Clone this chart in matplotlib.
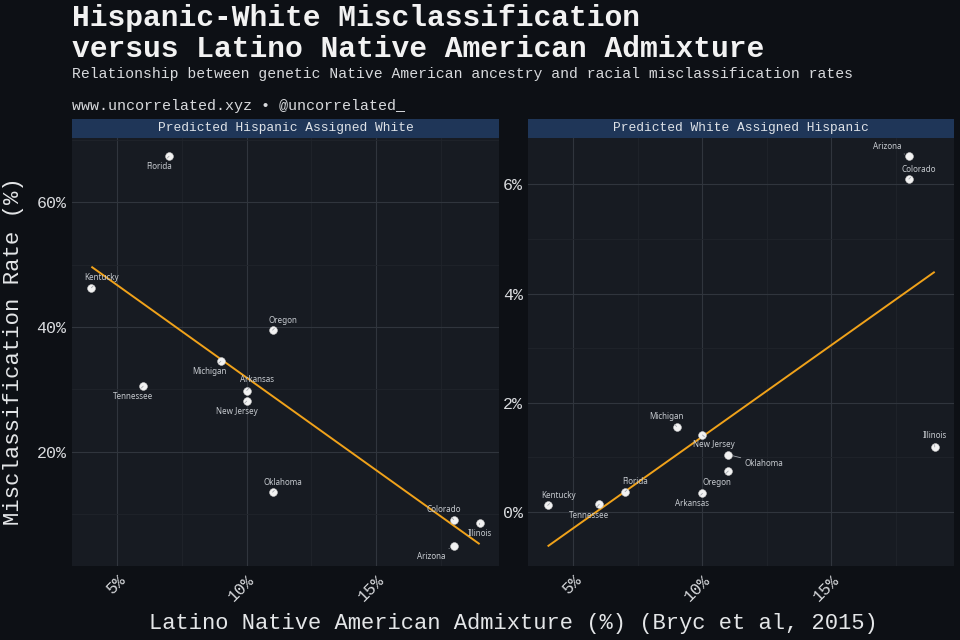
import numpy as np
import matplotlib
matplotlib.use("Agg")
import matplotlib.pyplot as plt
from matplotlib.patches import Rectangle
from matplotlib.ticker import MultipleLocator, FuncFormatter

# ---------------- data ----------------
states = ['Arizona', 'Arkansas', 'Colorado', 'Florida', 'Illinois', 'Kentucky',
          'Michigan', 'New Jersey', 'Oklahoma', 'Oregon', 'Tennessee']
admixture = [18, 10, 18, 7, 19, 4, 9, 10, 11, 11, 6]
hispanic_as_white = [4.8, 29.8, 9.1, 67.4, 8.5, 46.3, 34.5, 28.1, 13.5, 39.5, 30.5]
white_as_hispanic = [6.52, 0.34, 6.10, 0.37, 1.19, 0.12, 1.565, 1.41, 1.05, 0.75, 0.14]
panel_titles = ['Predicted Hispanic Assigned White', 'Predicted White Assigned Hispanic']
x_ticks = [5, 10, 15]
y_ticks_left = [20, 40, 60]
y_ticks_right = [0, 2, 4, 6]

# ---------------- style ----------------
BG = '#0d1015'
PANEL = '#171b22'
STRIP = '#1f3658'
GRID_MAJ = '#30353d'
GRID_MIN = '#20242b'
ORANGE = '#f0a21a'
MONO = 'Liberation Mono'
SANS = 'Noto Sans'

# label offsets in pixels (dx, dy with dy positive downward)
offsets_left = {
    'Florida': (-10, 10), 'Kentucky': (10, -10), 'Oregon': (10, -10),
    'Michigan': (-11, 10), 'Tennessee': (-10, 10), 'Arkansas': (10, -11),
    'New Jersey': (-10, 10), 'Oklahoma': (10, -10), 'Colorado': (-10, -10),
    'Illinois': (0, 10), 'Arizona': (-22, 10),
}
offsets_right = {
    'Arizona': (-22, -10), 'Colorado': (10, -10), 'Michigan': (-10, -10),
    'New Jersey': (11, 10), 'Oklahoma': (36, 9), 'Oregon': (-11, 11),
    'Arkansas': (-10, 10), 'Florida': (10, -10), 'Tennessee': (-10, 11),
    'Kentucky': (11, -10), 'Illinois': (0, -11),
}

fig = plt.figure(figsize=(9.6, 6.4), dpi=100, facecolor=BG)

ax_h = 0.669
ax_y0 = 0.1161
axL = fig.add_axes([0.075, ax_y0, 0.4448, ax_h])
axR = fig.add_axes([0.5503, ax_y0, 0.4435, ax_h])

pct = FuncFormatter(lambda v, p: f'{v:g}%')


def draw_panel(ax, yvals, title, ylim, yticks, yminor, offsets):
    ax.set_facecolor(PANEL)
    for s in ax.spines.values():
        s.set_visible(False)
    ax.set_xlim(3.25, 19.75)
    ax.set_ylim(*ylim)
    ax.xaxis.set_major_locator(plt.FixedLocator(x_ticks))
    ax.xaxis.set_minor_locator(MultipleLocator(2.5))
    ax.yaxis.set_major_locator(plt.FixedLocator(yticks))
    ax.yaxis.set_minor_locator(MultipleLocator(yminor))
    ax.xaxis.set_major_formatter(pct)
    ax.yaxis.set_major_formatter(pct)
    ax.grid(True, which='major', color=GRID_MAJ, lw=0.8)
    ax.grid(True, which='minor', color=GRID_MIN, lw=0.6)
    ax.set_axisbelow(True)
    ax.tick_params(which='both', length=0)
    ax.tick_params(axis='y', pad=4, labelcolor='#d8dadd', labelsize=12)
    ax.tick_params(axis='x', pad=5, labelcolor='#d8dadd', labelsize=12)
    for lab in ax.get_xticklabels() + ax.get_yticklabels():
        lab.set_fontfamily(MONO)
    for lab in ax.get_xticklabels():
        lab.set_rotation(45)
        lab.set_ha('right')
        lab.set_va('top')
        lab.set_rotation_mode('anchor')

    # regression line
    x = np.array(admixture, dtype=float)
    y = np.array(yvals, dtype=float)
    b, a = np.polyfit(x, y, 1)
    xs = np.array([x.min(), x.max()])
    ax.plot(xs, a + b * xs, color=ORANGE, lw=1.4, zorder=3, solid_capstyle='butt')

    # points
    ax.plot(x, y, 'o', ms=5.6, mfc='#f2f2f2', mec='#d0d0d0', mew=0.4, zorder=4)

    # labels
    for st, xi, yi in zip(states, x, y):
        dx, dy = offsets[st]
        ax.annotate(st, (xi, yi), xytext=(dx * 0.72, -dy * 0.72),
                    textcoords='offset points', ha='center', va='center',
                    fontsize=5.8, color='#c6cacf', family=SANS, zorder=5,
                    arrowprops=dict(arrowstyle='-', color='#a4a8ae', lw=0.6,
                                    shrinkA=1, shrinkB=3.5))

    # strip
    ax.add_patch(Rectangle((0, 1.0), 1, 18.7 / 428, transform=ax.transAxes,
                           facecolor=STRIP, edgecolor='none', clip_on=False, zorder=1))
    ax.text(0.5, 1.0 + 9.35 / 428, title, transform=ax.transAxes, ha='center',
            va='center', fontsize=9.3, family=MONO, color='#dfe3e8')


draw_panel(axL, hispanic_as_white, panel_titles[0], (1.7, 70.4), y_ticks_left, 10, offsets_left)
draw_panel(axR, white_as_hispanic, panel_titles[1], (-0.985, 6.86), y_ticks_right, 1, offsets_right)

# titles
fig.text(72 / 960, 1 - 26 / 640, 'Hispanic-White Misclassification', family=MONO,
         fontweight='bold', fontsize=21.3, color='#f2f2f2', va='baseline', ha='left')
fig.text(72 / 960, 1 - 57 / 640, 'versus Latino Native American Admixture', family=MONO,
         fontweight='bold', fontsize=21.3, color='#f2f2f2', va='baseline', ha='left')
fig.text(72 / 960, 1 - 78 / 640,
         'Relationship between genetic Native American ancestry and racial misclassification rates',
         family=MONO, fontsize=10.65, color='#d8dadd', va='baseline', ha='left')
fig.text(72 / 960, 1 - 110 / 640, 'www.uncorrelated.xyz \u2022 @uncorrelated_',
         family=MONO, fontsize=10.85, color='#d8dadd', va='baseline', ha='left')

fig.text(14 / 960, 1 - 351.6 / 640, 'Misclassification Rate (%)', family=MONO,
         fontsize=16, color='#e4e6e8', rotation=90, ha='center', va='center')
fig.text(513 / 960, 1 - 623 / 640, 'Latino Native American Admixture (%) (Bryc et al, 2015)',
         family=MONO, fontsize=15.9, color='#e4e6e8', ha='center', va='center')

fig.savefig('out.png', dpi=100, facecolor=BG)
